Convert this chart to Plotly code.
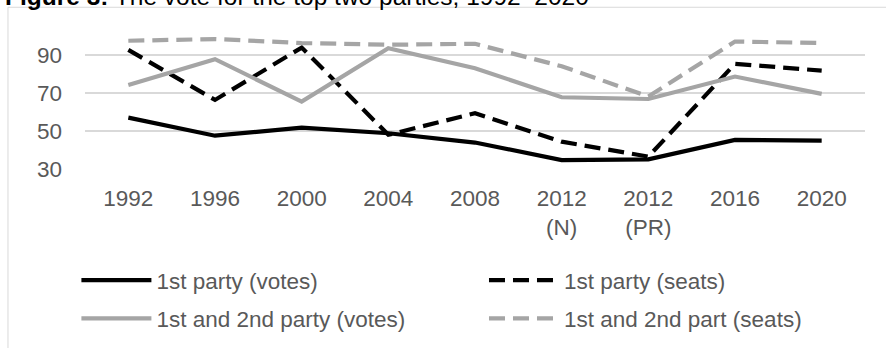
import plotly.graph_objects as go

categories = ["1992", "1996", "2000", "2004", "2008", "2012<br>(N)", "2012<br>(PR)", "2016", "2020"]
first_votes = [57.0, 47.5, 51.7, 48.8, 43.9, 34.7, 35.1, 45.3, 44.9]
first_seats = [92.6, 66.3, 93.8, 48.0, 59.3, 44.4, 36.5, 85.3, 81.7]
top2_votes = [74.2, 87.7, 65.4, 93.5, 83.0, 67.7, 66.8, 78.6, 69.5]
top2_seats = [97.4, 98.3, 96.2, 95.3, 95.8, 84.0, 68.1, 97.0, 96.2]
y_ticks = [30, 50, 70, 90]

W, H = 886, 348
L, R, T, B = 84.6, 20.6, 32.2, 179
PW, PH = W - L - R, H - T - B

def px(x):
    return (x - L) / PW

def py(y):
    return (H - B - y) / PH

def cy(y):
    return 1 - y / H

FONT = "Liberation Sans, Arial, sans-serif"
BLACK = "#000000"
GRAY = "#A5A5A5"
DASH = "16px,8px"
TXT = "#595959"
FS = 22.5

fig = go.Figure()
fig.add_trace(go.Scatter(x=categories, y=first_votes, mode="lines", name="1st party (votes)",
                         legend="legend", legendgroup="a",
                         line=dict(color=BLACK, width=4.2)))
fig.add_trace(go.Scatter(x=categories, y=first_seats, mode="lines", name="1st party (seats)",
                         legend="legend2", legendgroup="b",
                         line=dict(color=BLACK, width=4.2, dash=DASH)))
fig.add_trace(go.Scatter(x=categories, y=top2_votes, mode="lines", name="1st and 2nd party (votes)",
                         legend="legend", legendgroup="c",
                         line=dict(color=GRAY, width=4.2)))
fig.add_trace(go.Scatter(x=categories, y=top2_seats, mode="lines", name="1st and 2nd part (seats)",
                         legend="legend2", legendgroup="d",
                         line=dict(color=GRAY, width=4.2, dash=DASH)))

leg_common = dict(orientation="v", xanchor="left", yanchor="top", itemwidth=70,
                  traceorder="grouped", tracegroupgap=6, yref="container",
                  font=dict(family=FONT, size=FS, color=TXT),
                  bgcolor="rgba(0,0,0,0)", itemclick=False, itemdoubleclick=False)

fig.update_layout(
    width=W, height=H,
    margin=dict(l=L, r=R, t=T, b=B, pad=0, autoexpand=False),
    paper_bgcolor="white", plot_bgcolor="white",
    font=dict(family=FONT, size=FS, color=TXT),
    showlegend=True,
    legend=dict(x=px(76), y=cy(259), **leg_common),
    legend2=dict(x=px(484), y=cy(259), **leg_common),
    xaxis=dict(type="category", range=[-0.5, 8.5], showgrid=False, showline=False, zeroline=False,
               ticks="", tickfont=dict(size=FS, color=TXT), ticklabelstandoff=13),
    yaxis=dict(range=[30, 102], tickvals=y_ticks, showgrid=True, gridcolor="#D9D9D9", gridwidth=1.5,
               zeroline=False, showline=False, ticks="", tickfont=dict(size=FS, color=TXT),
               ticklabelstandoff=22),
    shapes=[
        dict(type="line", xref="paper", yref="paper", x0=px(7.5), x1=px(900), y0=py(7.5), y1=py(7.5),
             line=dict(color="#D9D9D9", width=1)),
        dict(type="line", xref="paper", yref="paper", x0=px(7.5), x1=px(7.5), y0=py(7.5), y1=py(360),
             line=dict(color="#D9D9D9", width=1)),
    ],
    annotations=[
        dict(text="<b>Figure 3:</b> The vote for the top two parties, 1992–2020",
             xref="paper", yref="paper", x=px(3), y=py(12), xanchor="left", yanchor="bottom",
             showarrow=False, font=dict(family=FONT, size=24.5, color="#000000")),
    ],
)

fig.write_html("out.html")
